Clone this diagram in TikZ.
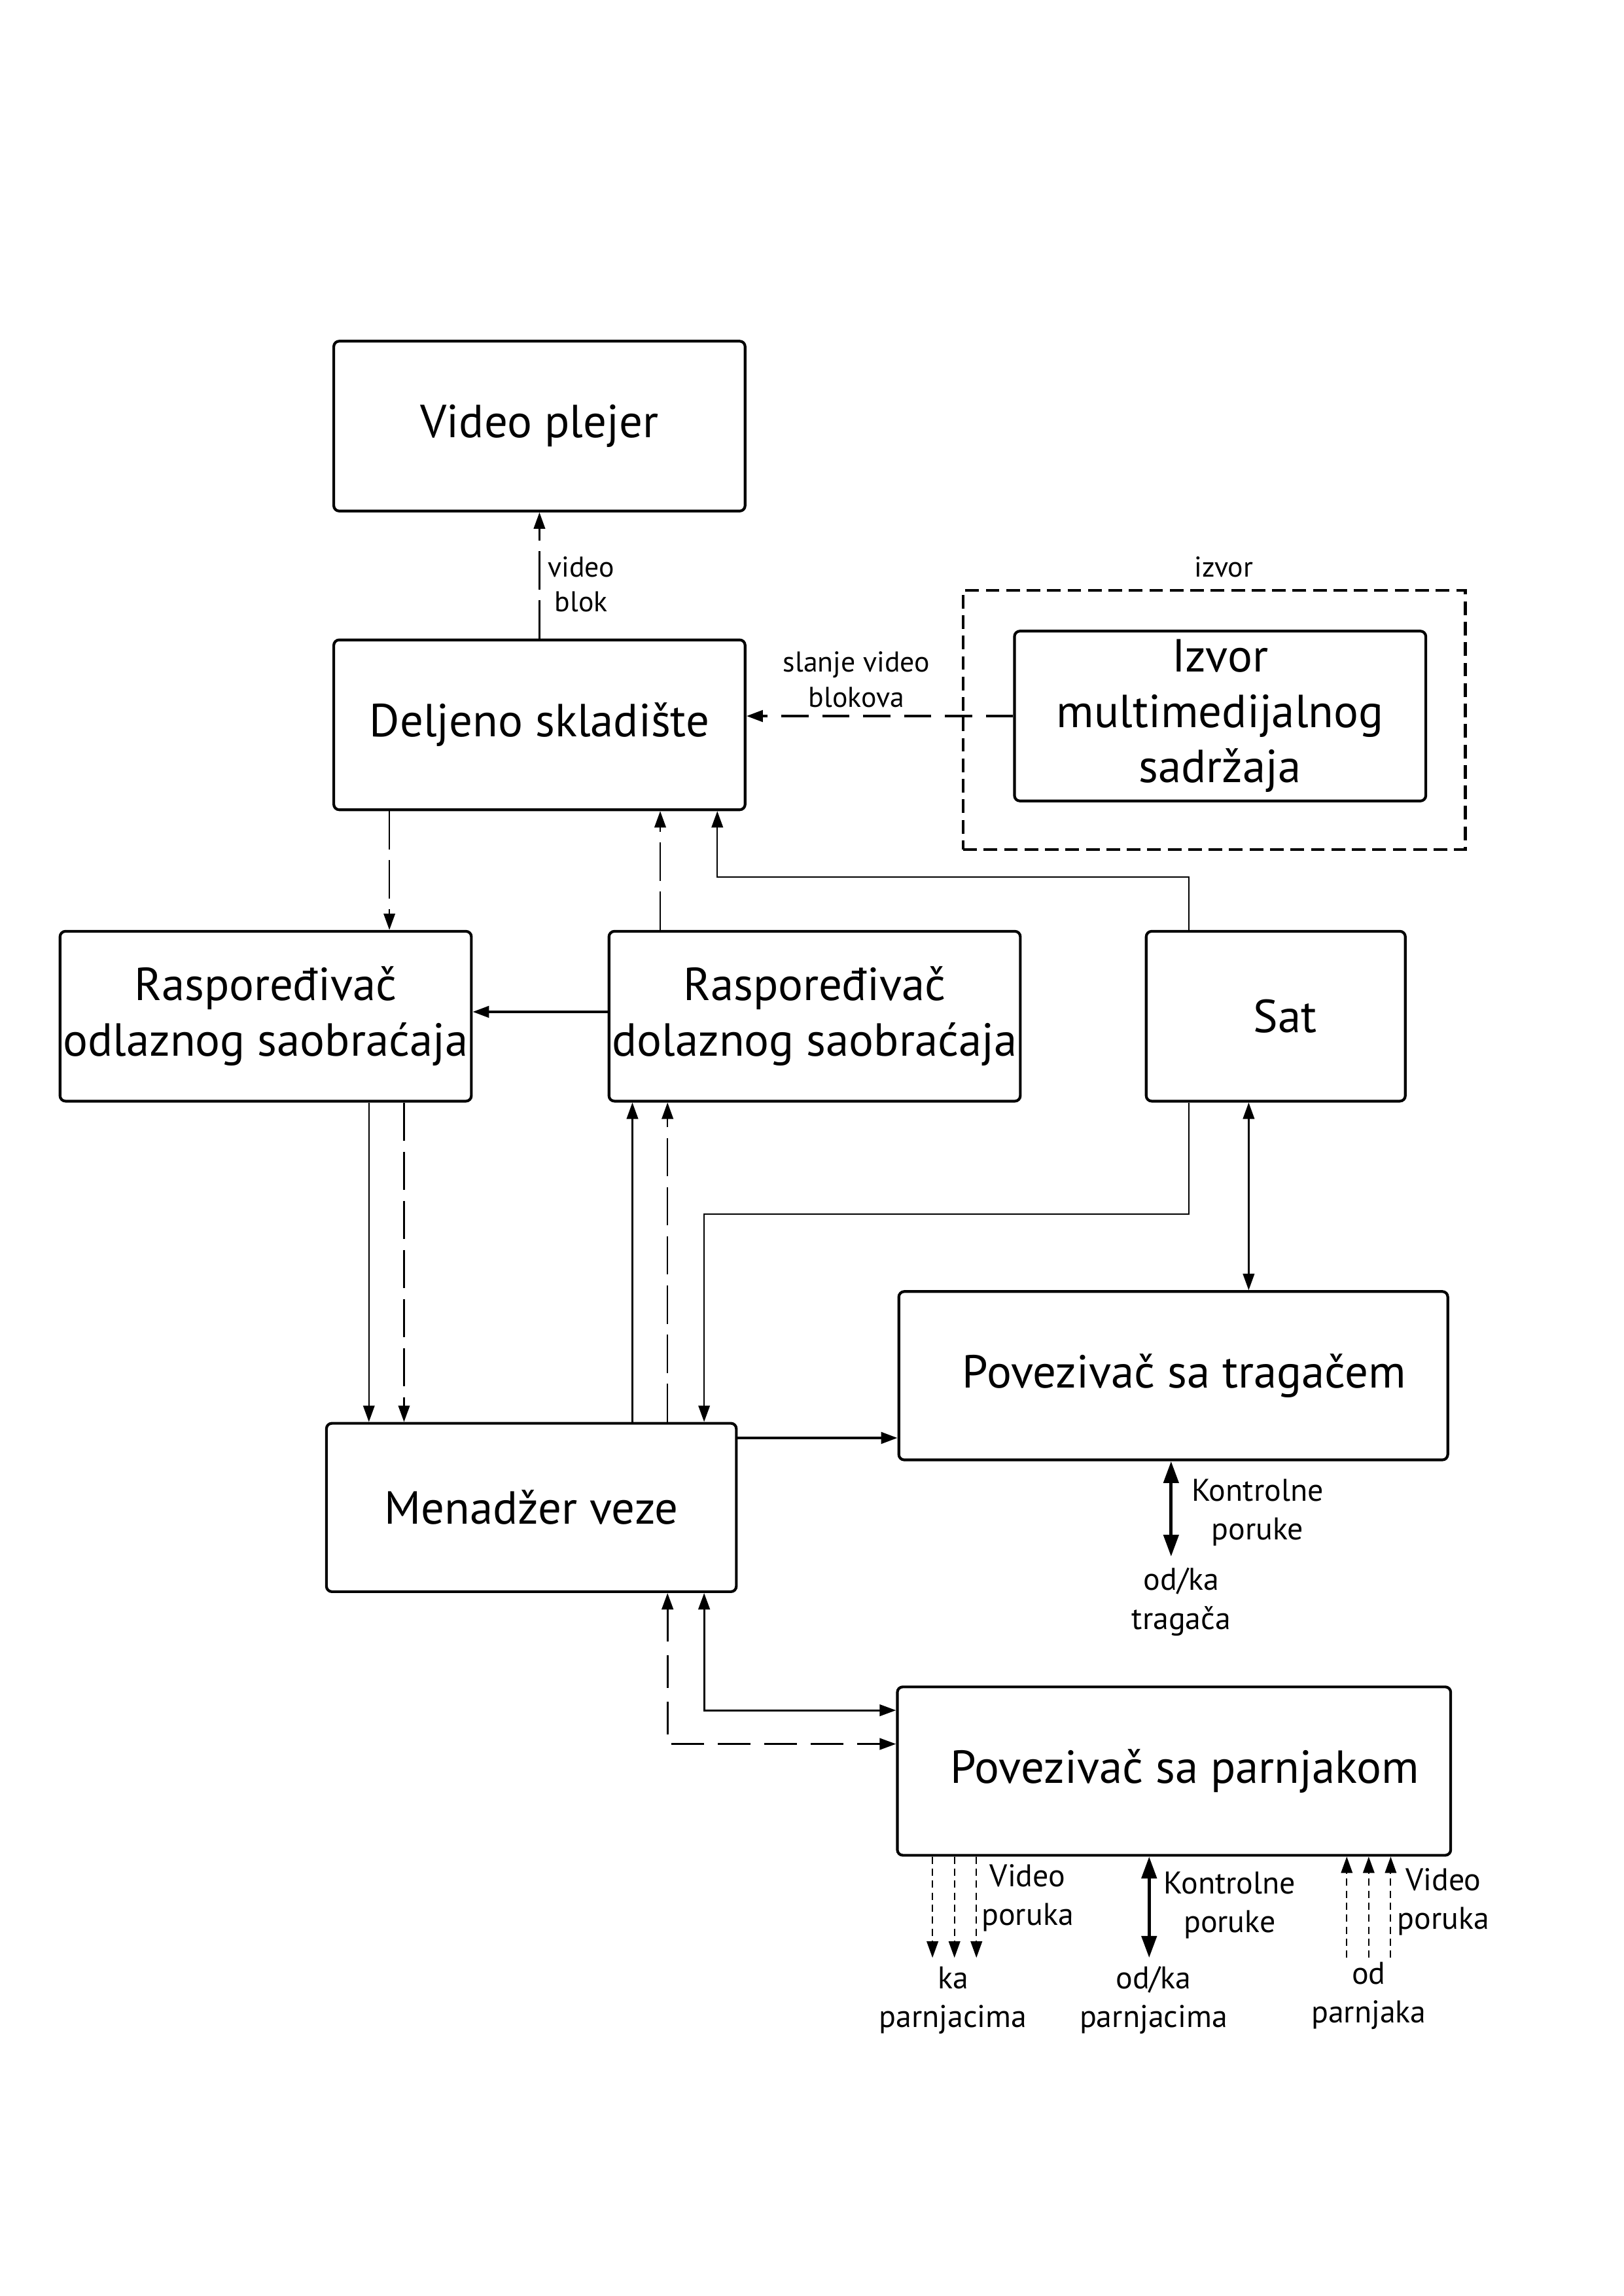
\documentclass[tikz,border=0pt]{standalone}
\usepackage{fontspec}
\setmainfont{PT Sans}
\usetikzlibrary{arrows.meta,calc}
\newcommand\bigfnt{\fontsize{17}{20.3}\selectfont}
\newcommand\labfnt{\fontsize{11.5}{14.2}\selectfont}
\newcommand\smlfnt{\fontsize{10.5}{12.9}\selectfont}
\begin{document}
\begin{tikzpicture}[x=0.5368pt,y=-0.5368pt,
  box/.style={draw,line width=1pt,rounded corners=2pt,align=center,inner sep=0pt,font=\bigfnt},
  bx/.style 2 args={minimum width=#1*0.5368pt,minimum height=#2*0.5368pt},
  conn/.style={line width=0.55pt},
  dsh/.style={dash pattern=on 14pt off 4pt},
  dotln/.style={line width=0.5pt,dash pattern=on 2.6pt off 1.8pt},
  bigtip/.style={>={Triangle[length=8pt,width=5.5pt]}},
  lab/.style={align=center,inner sep=0pt,font=\labfnt},
  slab/.style={align=center,inner sep=0pt,font=\smlfnt},
  >={Triangle[length=6pt,width=4.2pt]}]
\useasboundingbox (0,0) rectangle (1109,1568);

% boxes
\node[box,bx={281}{116}] (vp) at (368.5,291) {Video plejer};
\node[box,bx={281}{116}] (ds) at (368.5,495) {Deljeno skladište};
\node[draw,line width=1pt,dash pattern=on 5pt off 2.5pt,bx={343}{177}] (izo) at (829.5,491.5) {};
\node[slab] (izl) at (836,387) {izvor};
\node[box,bx={281}{116}] (izv) at (833.5,489) {Izvor\\multimedijalnog\\sadržaja};
\node[box,bx={281}{116}] (ro) at (181.5,694) {Raspoređivač\\odlaznog saobraćaja};
\node[box,bx={281}{116}] (rd) at (556.5,694) {Raspoređivač\\dolaznog saobraćaja};
\node[box,bx={177}{116}] (sat) at (871.5,694) {\hspace*{7pt}Sat};
\node[box,bx={375}{115}] (pt) at (801.5,939.5) {\hspace*{8pt}Povezivač sa tragačem};
\node[box,bx={280}{115}] (mv) at (363,1029.5) {Menadžer veze};
\node[box,bx={378}{115}] (pp) at (802,1209.5) {\hspace*{8pt}Povezivač sa parnjakom};

% helper coordinates
\coordinate (x266) at (266,0);
\coordinate (x451) at (451,0);
\coordinate (x252) at (252,0);
\coordinate (x276) at (276,0);
\coordinate (x432) at (432,0);
\coordinate (x456) at (456,0);
\coordinate (x481) at (481,0);
\coordinate (x812) at (812,0);
\coordinate (x853) at (853,0);
\coordinate (x800) at (800,0);
\coordinate (y691) at (0,691);
\coordinate (y982) at (0,982);
\coordinate (y1168) at (0,1168);
\coordinate (y1191) at (0,1191);
\coordinate (k1) at (490,599);
\coordinate (k2) at (481,829);
\coordinate (t1) at (800,1063);
\coordinate (kc) at (785,1337);

% connectors
\draw[conn,dsh,->] (ds.north) -- (vp.south);
\draw[line width=0.9pt,dash pattern=on 10pt off 5pt,->] (izv.west) -- (izv.west -| ds.east);
\draw[conn,dsh,->] (ds.south -| x266) -- (ro.north -| x266);
\draw[conn,dsh,->] (rd.north -| x451) -- (ds.south -| x451);
\draw[conn,->] (sat.north -| x812) |- (k1) -- (ds.south -| k1);
\draw[line width=0.9pt,->] (rd.west |- y691) -- (ro.east |- y691);
\draw[conn,->] (ro.south -| x252) -- (mv.north -| x252);
\draw[conn,dsh,->] (ro.south -| x276) -- (mv.north -| x276);
\draw[conn,->] (mv.north -| x432) -- (rd.south -| x432);
\draw[conn,dsh,->] (mv.north -| x456) -- (rd.south -| x456);
\draw[conn,->] (sat.south -| x812) |- (k2) -- (mv.north -| k2);
\draw[conn,<->] (sat.south -| x853) -- (pt.north -| x853);
\draw[line width=0.9pt,->] (mv.east |- y982) -- (pt.west |- y982);
\draw[line width=1.2pt,bigtip,<->] (pt.south -| x800) -- (t1);
\draw[line width=0.7pt,<->] (mv.south -| x481) |- (pp.west |- y1168);
\draw[line width=0.7pt,dash pattern=on 12pt off 5pt,<->] (mv.south -| x456) |- (pp.west |- y1191);
\foreach \i/\xx in {a/637,b/652,c/667}{
  \coordinate (kp\i) at (\xx,1337);
  \draw[dotln,->] (pp.south -| kp\i) -- (kp\i);
}
\draw[line width=1.2pt,bigtip,<->] (pp.south -| kc) -- (kc);
\foreach \i/\xx in {a/920,b/935,c/950}{
  \coordinate (op\i) at (\xx,1337);
  \draw[dotln,->] (op\i) -- (pp.south -| op\i);
}

% labels
\node[slab] (l1) at (397,399) {video\\blok};
\node[slab] (l2) at (585,464) {slanje video\\blokova};
\node[lab] (l3) at (859,1033) {Kontrolne\\poruke};
\node[lab] (l4) at (807,1094) {od/ka\\tragača};
\node[lab] (l5) at (702,1296) {Video\\poruka};
\node[lab] (l6) at (651,1366) {ka\\parnjacima};
\node[lab] (l7) at (840,1301) {Kontrolne\\poruke};
\node[lab] (l8) at (788,1366) {od/ka\\parnjacima};
\node[lab] (l9) at (986,1299) {Video\\poruka};
\node[lab] (l10) at (935,1363) {od\\parnjaka};
\end{tikzpicture}
\end{document}
